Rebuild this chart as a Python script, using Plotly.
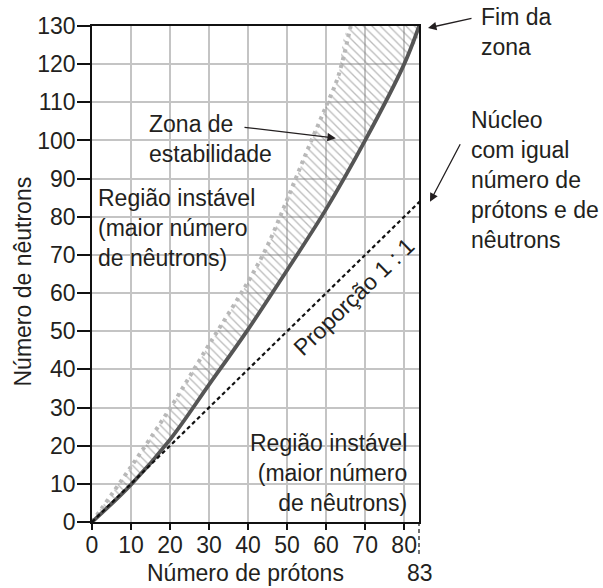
import plotly.graph_objects as go

# ---- data ----
z_stable = [0, 10, 20, 30, 40, 50, 60, 70, 80, 84]
n_stable = [0, 9.8, 21.6, 36, 50.5, 66, 82, 100, 120, 130.5]

z_upper = [0, 10, 20, 30, 40, 45, 50, 55, 60, 63, 66.3]
n_upper = [0, 14.5, 29.8, 46.5, 63, 72.5, 84.5, 97, 109, 116.5, 130]

z_ratio = [0, 84]
n_ratio = [0, 84]

x_ticks = [0, 10, 20, 30, 40, 50, 60, 70, 80]
y_ticks = list(range(0, 131, 10))
z_end_label = "83"

FONT = "Liberation Sans, Arial, Helvetica, sans-serif"
TXT = "#231f20"
FS = 23

fig = go.Figure()

# hatched stability zone (between upper dotted bound and the solid curve)
fig.add_trace(go.Scatter(
    x=z_upper + z_stable[::-1],
    y=n_upper + n_stable[::-1],
    mode="lines", line=dict(width=0, color="rgba(0,0,0,0)", shape="spline", smoothing=1),
    fill="toself", fillcolor="rgba(0,0,0,0)",
    fillpattern=dict(shape="\\", fgcolor="#787878", bgcolor="rgba(0,0,0,0)",
                     size=6, solidity=0.22, fillmode="overlay"),
    hoverinfo="skip", showlegend=False))

# upper bound dotted
fig.add_trace(go.Scatter(
    x=z_upper, y=n_upper, mode="lines",
    line=dict(color="#b8b8b8", width=4, dash="3.5px,4.5px", shape="spline", smoothing=1),
    showlegend=False))

# stability curve
fig.add_trace(go.Scatter(
    x=z_stable, y=n_stable, mode="lines",
    line=dict(color="#555555", width=3.8, shape="spline", smoothing=1),
    showlegend=False))

# 1:1 line
fig.add_trace(go.Scatter(
    x=z_ratio, y=n_ratio, mode="lines",
    line=dict(color="#111111", width=2.2, dash="4px,3px"),
    showlegend=False))

def txt(text, x, y, xanchor="left", align="left", angle=0, ref="data"):
    xr, yr = ("x", "y") if ref == "data" else ("paper", "paper")
    fig.add_annotation(text=text, x=x, y=y, xref=xr, yref=yr,
                       xanchor=xanchor, yanchor="middle", align=align,
                       showarrow=False, textangle=angle, borderpad=0,
                       font=dict(family=FONT, size=FS, color=TXT))

def arrow_data(x, y, ax, ay):
    fig.add_annotation(text="", x=x, y=y, ax=ax, ay=ay, xref="x", yref="y",
                       axref="x", ayref="y", showarrow=True, arrowhead=2,
                       arrowsize=1.3, arrowwidth=1.3, arrowcolor=TXT, standoff=0)

def arrow_paper(x, y, dx, dy):
    fig.add_annotation(text="", x=x, y=y, ax=dx, ay=dy, xref="paper", yref="paper",
                       axref="pixel", ayref="pixel", showarrow=True, arrowhead=2,
                       arrowsize=1.3, arrowwidth=1.3, arrowcolor=TXT, standoff=0)

txt("Zona de<br>estabilidade", 14.4, 100.4)
arrow_data(62.5, 100.6, 38.7, 103.5)
txt("Região instável<br>(maior número<br>de nêutrons)", 1.3, 77.1)
txt("Região instável<br>(maior número<br>de nêutrons)", 81.0, 12.8, xanchor="right", align="right")
txt("Proporção 1 : 1", 67.0, 59.1, xanchor="center", align="center", angle=-44)

# outside the plotting area (paper coordinates)
txt("Fim da<br>zona", 1.1865, 0.9879, ref="paper")
arrow_paper(1.0275, 0.996, 45, -10)
txt("Núcleo<br>com igual<br>número de<br>prótons e de<br>nêutrons", 1.156, 0.6905, ref="paper")
arrow_paper(1.0336, 0.6458, 31, -59)

txt("Número de prótons", 0.4679, -0.1038, xanchor="center", align="center", ref="paper")
txt(z_end_label, 1.003, -0.1038, xanchor="center", align="center", ref="paper")
txt("Número de nêutrons", -0.2125, 0.4839, xanchor="center", align="center", angle=-90, ref="paper")

# dashed extension of the right edge below the axis
fig.add_shape(type="line", xref="paper", yref="paper", x0=1, x1=1, y0=0, y1=-0.0665,
              line=dict(color="#111111", width=1.2, dash="4px,3px"))

fig.update_xaxes(range=[0, 83.8], tickvals=x_ticks, ticks="outside", ticklen=6,
                 tickwidth=1.5, tickcolor="#111", showline=True, linecolor="#111",
                 linewidth=1.8, mirror=True, showgrid=True, gridcolor="#c4c4c4",
                 gridwidth=1.5, zeroline=False, ticklabelstandoff=-5,
                 tickfont=dict(family=FONT, size=FS, color=TXT))
fig.update_yaxes(range=[0, 130], tickvals=y_ticks, ticks="outside", ticklen=13,
                 tickwidth=1.5, tickcolor="#111", showline=True, linecolor="#111",
                 linewidth=1.8, mirror=True, showgrid=True, gridcolor="#c4c4c4",
                 gridwidth=1.5, zeroline=False, ticklabelstandoff=-3,
                 tickfont=dict(family=FONT, size=FS, color=TXT))

fig.update_layout(width=603, height=588, margin=dict(l=92, r=184, t=26, b=66),
                  paper_bgcolor="white", plot_bgcolor="white", showlegend=False)

fig.write_html("out.html")
